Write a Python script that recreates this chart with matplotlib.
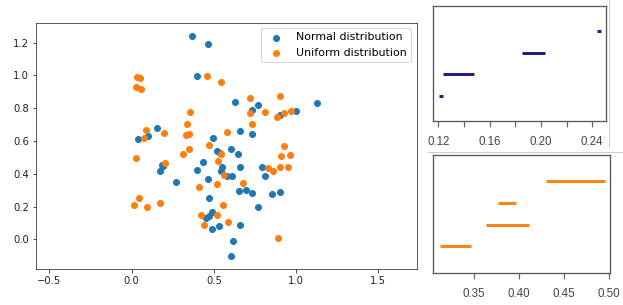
import numpy as np
import matplotlib
matplotlib.use("Agg")
import matplotlib.pyplot as plt
from matplotlib.lines import Line2D

# scatter values
normal_x = [0.370, 0.465, 0.395, 0.631, 0.769, 0.729, 0.900, 1.002, 1.129, 0.658,
            0.732, 0.152, 0.040, 0.097, 0.492, 0.520, 0.535, 0.603, 0.644, 0.435,
            0.395, 0.547, 0.543, 0.658, 0.465, 0.580, 0.611, 0.795, 0.809, 0.182,
            0.172, 0.190, 0.267, 0.651, 0.698, 0.732, 0.856, 0.905, 0.471, 0.769,
            0.488, 0.470, 0.455, 0.490, 0.530, 0.658, 0.617, 0.603]
normal_y = [1.240, 1.192, 0.998, 0.840, 0.819, 0.789, 0.758, 0.783, 0.833, 0.663,
            0.641, 0.681, 0.612, 0.630, 0.620, 0.541, 0.525, 0.551, 0.520, 0.473,
            0.425, 0.443, 0.419, 0.439, 0.370, 0.388, 0.384, 0.439, 0.384, 0.453,
            0.419, 0.445, 0.348, 0.295, 0.301, 0.281, 0.275, 0.287, 0.254, 0.199,
            0.167, 0.145, 0.128, 0.061, 0.079, 0.087, -0.009, -0.100]

uniform_x = [0.030, 0.050, 0.024, 0.055, 0.459, 0.542, 0.718, 0.900, 0.718, 0.809,
             0.884, 0.927, 0.971, 0.358, 0.334, 0.729, 0.087, 0.075, 0.196, 0.330,
             0.350, 0.577, 0.473, 0.350, 0.313, 0.026, 0.546, 0.526, 0.202, 0.927,
             0.911, 0.961, 0.829, 0.860, 0.900, 0.951, 0.560, 0.678, 0.522, 0.409,
             0.044, 0.014, 0.095, 0.170, 0.556, 0.425, 0.522, 0.439, 0.587, 0.890]
uniform_y = [0.992, 0.982, 0.931, 0.915, 0.998, 0.957, 0.860, 0.874, 0.772, 0.779,
             0.744, 0.769, 0.783, 0.779, 0.702, 0.702, 0.667, 0.620, 0.647, 0.636,
             0.641, 0.657, 0.578, 0.549, 0.520, 0.494, 0.520, 0.478, 0.467, 0.571,
             0.508, 0.514, 0.433, 0.417, 0.439, 0.439, 0.392, 0.342, 0.336, 0.321,
             0.254, 0.209, 0.195, 0.220, 0.209, 0.148, 0.148, 0.087, 0.107, 0.010]

# interval segments in the two small panels
top_level = [1, 2, 3, 4]
top_start = [0.1205, 0.1234, 0.1855, 0.2435]
top_end = [0.1235, 0.1480, 0.2029, 0.2468]
top_ticks = [0.12, 0.14, 0.16, 0.18, 0.20, 0.22, 0.24]
top_labels = ['0.12', '', '0.16', '', '0.20', '', '0.24']

bot_level = [1, 2, 3, 4]
bot_start = [0.3117, 0.3637, 0.3767, 0.4300]
bot_end = [0.3462, 0.4114, 0.3967, 0.4956]
bot_ticks = [0.35, 0.40, 0.45, 0.50]
bot_labels = ['0.35', '0.40', '0.45', '0.50']

fig = plt.figure(figsize=(623 / 72, 305 / 72), dpi=72)

ax = fig.add_axes([0.0578, 0.119, 0.611, 0.807])
ax.scatter(normal_x, normal_y, color='#1f77b4', s=36, label='Normal distribution')
ax.scatter(uniform_x, uniform_y, color='#ff7f0e', s=36, label='Uniform distribution')
ax.set_xlim(-0.581, 1.733)
ax.set_ylim(-0.179, 1.322)
ax.set_xticks([-0.5, 0.0, 0.5, 1.0, 1.5])
ax.set_yticks([0.0, 0.2, 0.4, 0.6, 0.8, 1.0, 1.2])
ax.tick_params(labelsize=10, colors='#222222')
for sp in ax.spines.values():
    sp.set_color('#333333')
ax.legend(loc='upper right', fontsize=11, frameon=True)


def interval_panel(rect, level, start, end, color, ticks, labels, xlim, ylim):
    a = fig.add_axes(rect)
    a.hlines(level, start, end, colors=color, linewidth=3)
    a.set_xlim(*xlim)
    a.set_ylim(*ylim)
    a.set_yticks([])
    a.set_xticks(ticks)
    a.set_xticklabels(labels, fontfamily='Liberation Sans', fontsize=11.5, color='#444444')
    a.tick_params(axis='x', length=6, width=1.2, color='#666666', pad=9)
    for sp in a.spines.values():
        sp.set_color('#555555')
        sp.set_linewidth(1.3)
    return a


interval_panel([0.6945, 0.604, 0.278, 0.377], top_level, top_start, top_end, '#1e1e88',
               top_ticks, top_labels, (0.1156, 0.2507), (-0.16, 5.17))
interval_panel([0.6955, 0.106, 0.284, 0.386], bot_level, bot_start, bot_end, '#ff8412',
               bot_ticks, bot_labels, (0.3048, 0.5014), (-0.218, 5.214))

# thin separators between the pasted panels
fig.add_artist(Line2D([0.9775, 0.9775], [0.519, 1.0], color='#cccccc', linewidth=1))
fig.add_artist(Line2D([0.687, 1.0], [0.5026, 0.5026], color='#cccccc', linewidth=1))

fig.savefig('out.png', dpi=72)
